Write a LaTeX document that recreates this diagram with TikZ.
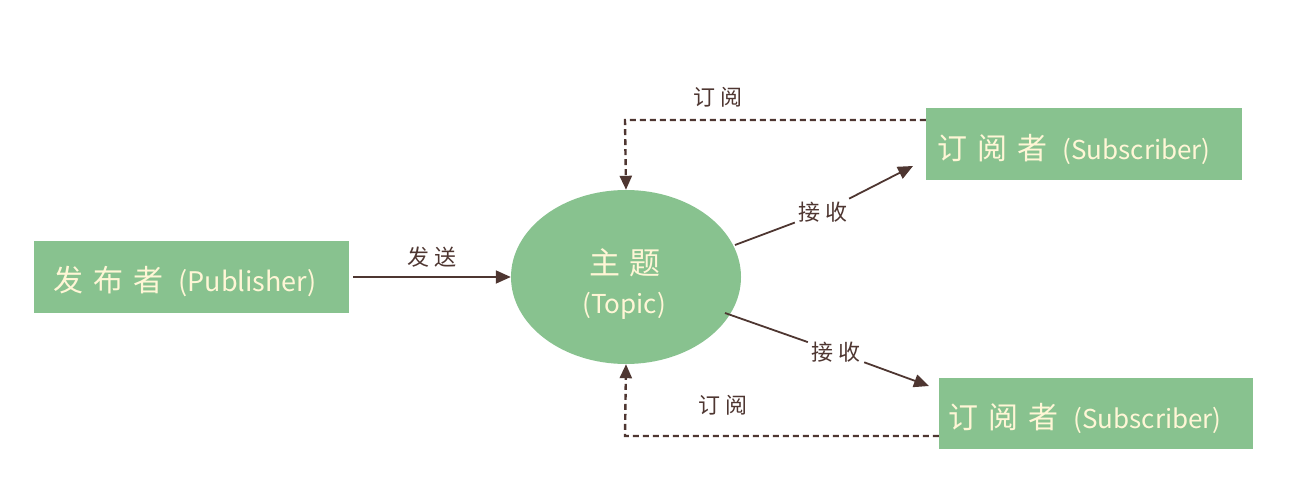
\documentclass[tikz,border=0pt]{standalone}
\usepackage{fontspec}
\setmainfont{Noto Sans CJK SC}
\usetikzlibrary{arrows.meta,shapes.geometric}
\definecolor{boxgreen}{HTML}{88C28F}
\definecolor{cream}{HTML}{FFF6D6}
\definecolor{ink}{HTML}{4E3631}
\newcommand{\gp}{\hspace{10pt}}
\newcommand{\sgp}{\hspace{6pt}}
\begin{document}
\begin{tikzpicture}[x=1pt,y=-1pt,
  box/.style={fill=boxgreen,draw=none,minimum width=315pt,minimum height=72pt,inner sep=0pt},
  boxtext/.style={anchor=west,text=cream,font=\fontsize{30}{34}\selectfont},
  latin/.style={font=\fontsize{27}{30}\selectfont},
  topic/.style={ellipse,fill=boxgreen,draw=none,minimum width=230pt,minimum height=174pt,inner sep=0pt},
  lbl/.style={text=ink,font=\fontsize{22}{25}\selectfont},
  conn/.style={draw=ink,line width=1.8pt,-{Triangle[length=15pt,width=13pt]}},
  dconn/.style={draw=ink,line width=2.4pt,dash pattern=on 6pt off 4pt,-{Triangle[length=14pt,width=12pt]}}]
\useasboundingbox (0,0) rectangle (1306,492);
\node[box] (pub) at (191.5,277) {};
\node[boxtext] (pubt) at (50,281) {发\gp 布\gp 者\hspace{15pt}{\fontsize{27}{30}\selectfont (Publisher)}};
\node[topic] (topic) at (626,277) {};
\node[text=cream,font=\fontsize{31}{34}\selectfont] (topt) at (625,263) {主\gp 题};
\node[text=cream,font=\fontsize{26}{29}\selectfont] (topt2) at (624,306) {(Topic)};
\node[box,minimum width=316pt] (sub1) at (1084,144) {};
\node[boxtext] (sub1t) at (934,149) {订\gp 阅\gp 者\hspace{15pt}{\fontsize{26}{29}\selectfont (Subscriber)}};
\node[box,minimum width=314pt,minimum height=71pt] (sub2) at (1096,413.5) {};
\node[boxtext] (sub2t) at (945,418) {订\gp 阅\gp 者\hspace{15pt}{\fontsize{26}{29}\selectfont (Subscriber)}};
\coordinate (c1) at (625,120);
\coordinate (c2) at (625,436);
\draw[conn] (pub.east) ++(4,0) coordinate (pe) -- (topic.west);
\node[lbl] (l1) at (432,257) {发\sgp 送};
\draw[dconn] (sub1.west |- c1) -- (c1) -- (topic.north);
\node[lbl] (l2) at (718,97) {订\sgp 阅};
\draw[dconn] (sub2.west |- c2) -- (c2) -- (topic.south);
\node[lbl] (l3) at (723,405) {订\sgp 阅};
\coordinate (a1) at (735,245);
\coordinate (b1) at (913,166);
\node[lbl,fill=white,inner sep=3pt] (l4) at (823,212) {接\sgp 收};
\draw[conn,-] (a1) -- (l4);
\draw[conn] (l4) -- (b1);
\coordinate (a2) at (725,313);
\coordinate (b2) at (929,386);
\node[lbl,fill=white,inner sep=3pt] (l5) at (836,352) {接\sgp 收};
\draw[conn,-] (a2) -- (l5);
\draw[conn] (l5) -- (b2);
\end{tikzpicture}
\end{document}
